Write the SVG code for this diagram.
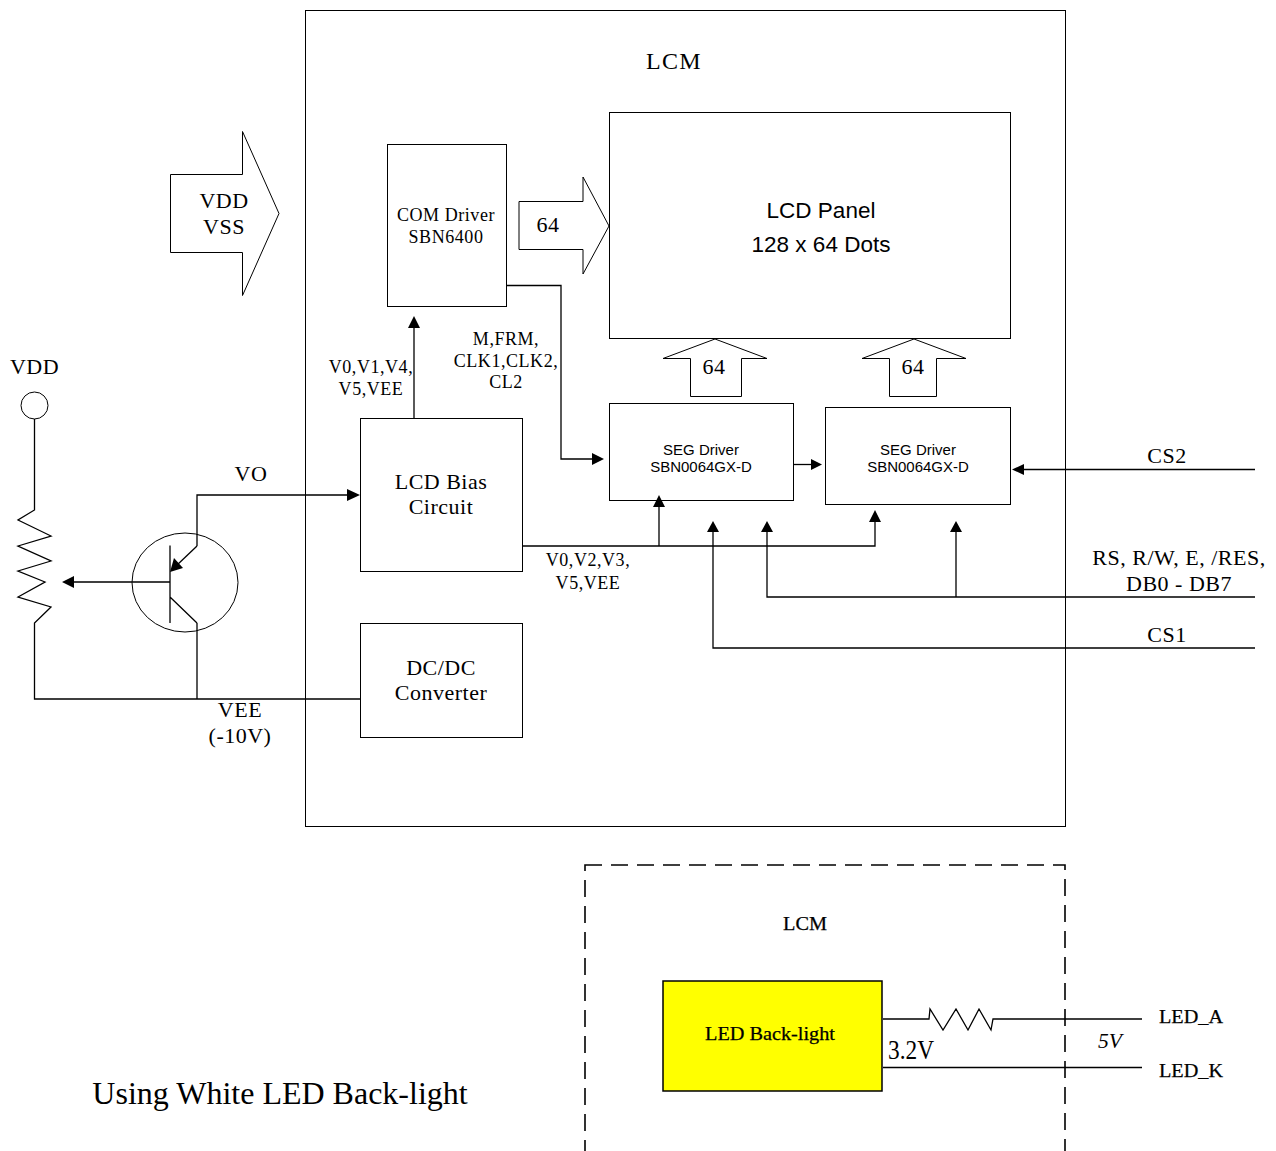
<svg xmlns="http://www.w3.org/2000/svg" width="1276" height="1151" viewBox="0 0 1276 1151">
<style>
.b{fill:none;stroke:#000;stroke-width:1}
.w{fill:none;stroke:#000;stroke-width:1.3}
.t{font-family:"Liberation Serif",serif;fill:#000;text-anchor:middle}
.l{font-size:22px;letter-spacing:.5px}
.n{font-size:18px;letter-spacing:.55px}
.s{font-family:"Liberation Sans",sans-serif;fill:#000;text-anchor:middle}
.p{font-size:22.500px}
.d{font-size:15px}
.m{font-family:"Liberation Serif",serif;fill:#000;text-anchor:middle;stroke:#000;stroke-width:.25}
.a{fill:#000;stroke:none}
</style>
<rect width="1276" height="1151" fill="#fff"/>
<g id="lcm"><rect class="b" x="305.500" y="10.500" width="760" height="816"/><text class="t" x="674" y="69" font-size="24" letter-spacing="1.300">LCM</text></g>
<g id="power-arrow"><path class="b" d="M170.500 174.500H242.500V131.500L279 213.500L242.500 295.500V252.500H170.500Z"/><text class="t l" x="224" y="208">VDD</text><text class="t l" x="224" y="234">VSS</text></g>
<g id="lcd-panel"><rect class="b" x="609.500" y="112.500" width="401" height="226"/><text class="s p" x="821" y="218">LCD Panel</text><text class="s p" x="821" y="252">128 x 64 Dots</text></g>
<g id="com-driver"><rect class="b" x="387.500" y="144.500" width="119" height="162"/><text class="t n" x="446" y="220.500">COM Driver</text><text class="t n" x="446" y="242.500">SBN6400</text></g>
<g id="com-bus"><path class="b" d="M519 201.500H583V177L609 226L583 274V249.500H519Z"/><text class="t l" x="548" y="232">64</text></g>
<g id="seg-bus-1"><path class="b" d="M690.500 396.500V358.500H663L715 339L767 358.500H741.500V396.500Z"/><text class="t l" x="714" y="374">64</text></g>
<g id="seg-bus-2"><path class="b" d="M889.500 396.500V358.500H862L914 339L966 358.500H936.500V396.500Z"/><text class="t l" x="913" y="374">64</text></g>
<g id="seg-driver-1"><rect class="b" x="609.500" y="403.500" width="184" height="97"/><text class="s d" x="701" y="455">SEG Driver</text><text class="s d" x="701" y="472">SBN0064GX-D</text></g>
<g id="seg-driver-2"><rect class="b" x="825.500" y="407.500" width="185" height="97"/><text class="s d" x="918" y="455">SEG Driver</text><text class="s d" x="918" y="472">SBN0064GX-D</text></g>
<g id="lcd-bias"><rect class="b" x="360.500" y="418.500" width="162" height="153"/><text class="t l" x="441" y="489">LCD Bias</text><text class="t l" x="441" y="514">Circuit</text></g>
<g id="dcdc"><rect class="b" x="360.500" y="623.500" width="162" height="114"/><text class="t l" x="441" y="675">DC/DC</text><text class="t l" x="441" y="700">Converter</text></g>
<g id="vdd-terminal"><circle class="b" cx="34.500" cy="405.500" r="13.500"/><text class="t l" x="34.500" y="374">VDD</text></g>
<g id="transistor"><ellipse class="b" cx="185" cy="582.500" rx="53" ry="49.500"/><path class="w" d="M170 545.500V623M170 597L197 623"/><path class="w" d="M197 546L176 566"/><path class="a" d="M170 572L174 558L183 568Z"/></g>
<g id="connectors">
<path class="w" d="M34.500 419V510L18 520L51 536L18 546L51 561L18 571L45 582L18 597L51 607L34.500 623V699H360"/>
<path class="w" d="M197 623V699M197 546V495H350M170 582H72"/>
<path class="a" d="M360 495L347 489V501ZM62 582L74 576V588Z"/>
<path class="w" d="M414 418V326"/><path class="a" d="M414 316L408 328H420Z"/>
<path class="w" d="M507 285.500H561V459H594"/><path class="a" d="M604 459L592 453V465Z"/>
<path class="w" d="M793 464.500H812"/><path class="a" d="M822 464.500L811 459V470Z"/>
<path class="w" d="M1255 469.500H1022"/><path class="a" d="M1012 469.500L1024 464V475Z"/>
<path class="w" d="M523 546H875V520M659 546V506"/><path class="a" d="M659 495L653 507H665ZM875 510L869 522H881Z"/>
<path class="w" d="M1255 597H767V530M956 597V530"/><path class="a" d="M767 521L761 532H773ZM956 521L950 532H962Z"/>
<path class="w" d="M1255 648H713V530"/><path class="a" d="M713 521L707 532H719Z"/>
</g>
<g id="labels">
<text class="t l" x="251" y="481">VO</text>
<text class="t n" x="371" y="372.500">V0,V1,V4,</text><text class="t n" x="371" y="394.500">V5,VEE</text>
<text class="t n" x="506" y="344.500">M,FRM,</text><text class="t n" x="506" y="366.500">CLK1,CLK2,</text><text class="t n" x="506" y="387.500">CL2</text>
<text class="t n" x="588" y="565.500">V0,V2,V3,</text><text class="t n" x="588" y="588.500">V5,VEE</text>
<text class="t l" x="240" y="717">VEE</text><text class="t l" x="240" y="743">(-10V)</text>
<text class="t l" x="1167" y="463">CS2</text>
<text class="t l" x="1179" y="565">RS, R/W, E, /RES,</text><text class="t l" x="1179" y="591">DB0 - DB7</text>
<text class="t l" x="1167" y="642">CS1</text>
<text class="t" x="280" y="1104" font-size="32">Using White LED Back-light</text>
</g>
<g id="backlight">
<rect x="585" y="865" width="480" height="290" fill="none" stroke="#000" stroke-width="1.600" stroke-dasharray="17 9"/>
<text class="m" x="805" y="930" font-size="19" textLength="44" lengthAdjust="spacingAndGlyphs">LCM</text>
<rect x="663" y="981" width="219" height="110" fill="#ff0" stroke="#000" stroke-width="1.500"/>
<text class="m" x="770" y="1040" font-size="18" textLength="130" lengthAdjust="spacingAndGlyphs">LED Back-light</text>
<path class="w" d="M883 1019H929L930 1009L943 1030L956 1009L968 1030L979 1009L991 1030L993 1019H1142M883 1067.500H1142"/>
<text class="t" x="911" y="1059" font-size="27" textLength="46" lengthAdjust="spacingAndGlyphs">3.2V</text>
<text class="t" x="1110" y="1048" font-size="20" font-style="italic" textLength="24" lengthAdjust="spacingAndGlyphs">5V</text>
<text class="m" x="1191" y="1023" font-size="18" textLength="64" lengthAdjust="spacingAndGlyphs">LED_A</text>
<text class="m" x="1191" y="1077" font-size="18" textLength="64" lengthAdjust="spacingAndGlyphs">LED_K</text>
</g>
</svg>
